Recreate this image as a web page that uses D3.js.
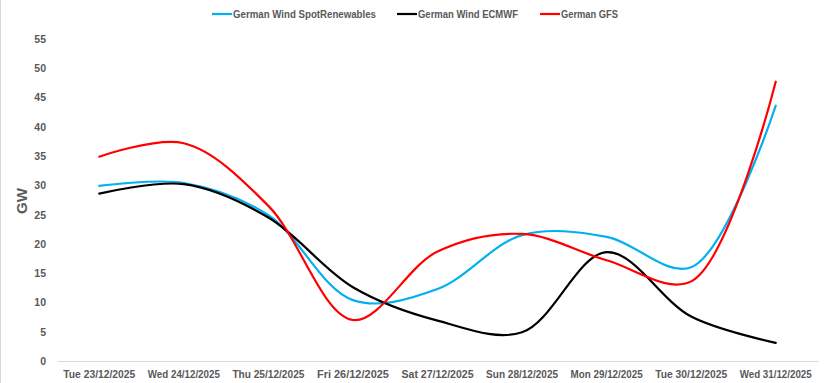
<!DOCTYPE html>
<html>
<head>
<meta charset="utf-8">
<script src="https://cdn.jsdelivr.net/npm/d3@7"></script>
<style>
  html, body { margin: 0; padding: 0; background: #fff; }
  svg { display: block; }
  text { font-family: "Liberation Sans", Arial, sans-serif; font-weight: bold; fill: #595959; }
</style>
</head>
<body>
<svg id="chart" width="828" height="383"></svg>
<script>
const categories = ["Tue 23/12/2025", "Wed 24/12/2025", "Thu 25/12/2025", "Fri 26/12/2025", "Sat 27/12/2025", "Sun 28/12/2025", "Mon 29/12/2025", "Tue 30/12/2025", "Wed 31/12/2025"];
const spotRenewables = [29.9, 30.4, 24.9, 10.4, 12.3, 21.5, 21.2, 16.0, 43.6];
const ecmwf = [28.6, 30.2, 24.5, 12.6, 6.9, 4.9, 18.6, 7.6, 3.1];
const gfs = [34.9, 37.2, 26.5, 7.0, 18.7, 21.7, 17.2, 13.6, 47.7];
const yTicks = [0, 5, 10, 15, 20, 25, 30, 35, 40, 45, 50, 55];
const seriesNames = ["German Wind SpotRenewables", "German Wind ECMWF", "German GFS"];
const seriesColors = ["#00B0F0", "#000000", "#FF0000"];
const seriesValues = [spotRenewables, ecmwf, gfs];

(function () {
const svg = d3.select("#chart");
const W = 828, H = 383;
const mLeft = 57, mRight = 818, mTop = 39, mBottom = 361;
const FONT = '"Liberation Sans", Arial, sans-serif';

// chart border (left edge visible)
svg.append("line").attr("x1", 0.5).attr("x2", 0.5).attr("y1", 0).attr("y2", H)
  .attr("stroke", "#d9d9d9").attr("stroke-width", 1);

const x = d3.scaleBand().domain(categories).range([mLeft, mRight]).padding(0);
const y = d3.scaleLinear().domain([0, 55]).range([mBottom, mTop]);

// Y axis labels
const yAxis = d3.axisLeft(y).tickValues(yTicks).tickSize(0).tickPadding(0);
const gy = svg.append("g").attr("transform", `translate(46,0)`).call(yAxis);
gy.select(".domain").remove();
gy.selectAll("text").attr("font-size", "10.5px").style("font-family", FONT)
  .style("font-weight", "bold").attr("fill", "#595959");

// X axis
const xAxis = d3.axisBottom(x).tickSize(0).tickPadding(10);
const gx = svg.append("g").attr("transform", `translate(0,${mBottom})`).call(xAxis);
gx.select(".domain").attr("stroke", "#d9d9d9").attr("stroke-width", 1);
gx.selectAll("text").attr("font-size", "10.5px").style("font-family", FONT)
  .style("font-weight", "bold").attr("fill", "#595959")
  .attr("textLength", 72).attr("lengthAdjust", "spacingAndGlyphs");

// Y title
svg.append("text").attr("transform", `translate(27,201) rotate(-90)`)
  .attr("text-anchor", "middle").attr("font-size", "15px")
  .style("font-family", FONT).text("GW");

// Lines
const line = d3.line()
  .x((d, i) => x(categories[i]) + x.bandwidth() / 2)
  .y(d => y(d))
  .curve(d3.curveCatmullRom.alpha(0.5));

seriesValues.forEach((vals, si) => {
  svg.append("path").datum(vals)
    .attr("d", line)
    .attr("fill", "none")
    .attr("stroke", seriesColors[si])
    .attr("stroke-width", 2.2)
    .attr("stroke-linejoin", "round")
    .attr("stroke-linecap", "round");
});

// Legend
const legendX = [212, 397, 540];
const legendTextW = [143, 100, 57];
const legend = svg.append("g");
seriesNames.forEach((name, i) => {
  const g = legend.append("g").attr("transform", `translate(${legendX[i]},14)`);
  g.append("line").attr("x1", 0).attr("x2", 20).attr("y1", 0).attr("y2", 0)
    .attr("stroke", seriesColors[i]).attr("stroke-width", 2.2);
  g.append("text").attr("x", 21).attr("y", 0).attr("dy", "0.35em")
    .attr("font-size", "10.5px")
    .attr("textLength", legendTextW[i]).attr("lengthAdjust", "spacingAndGlyphs")
    .text(name);
});
})();
</script>
</body>
</html>
